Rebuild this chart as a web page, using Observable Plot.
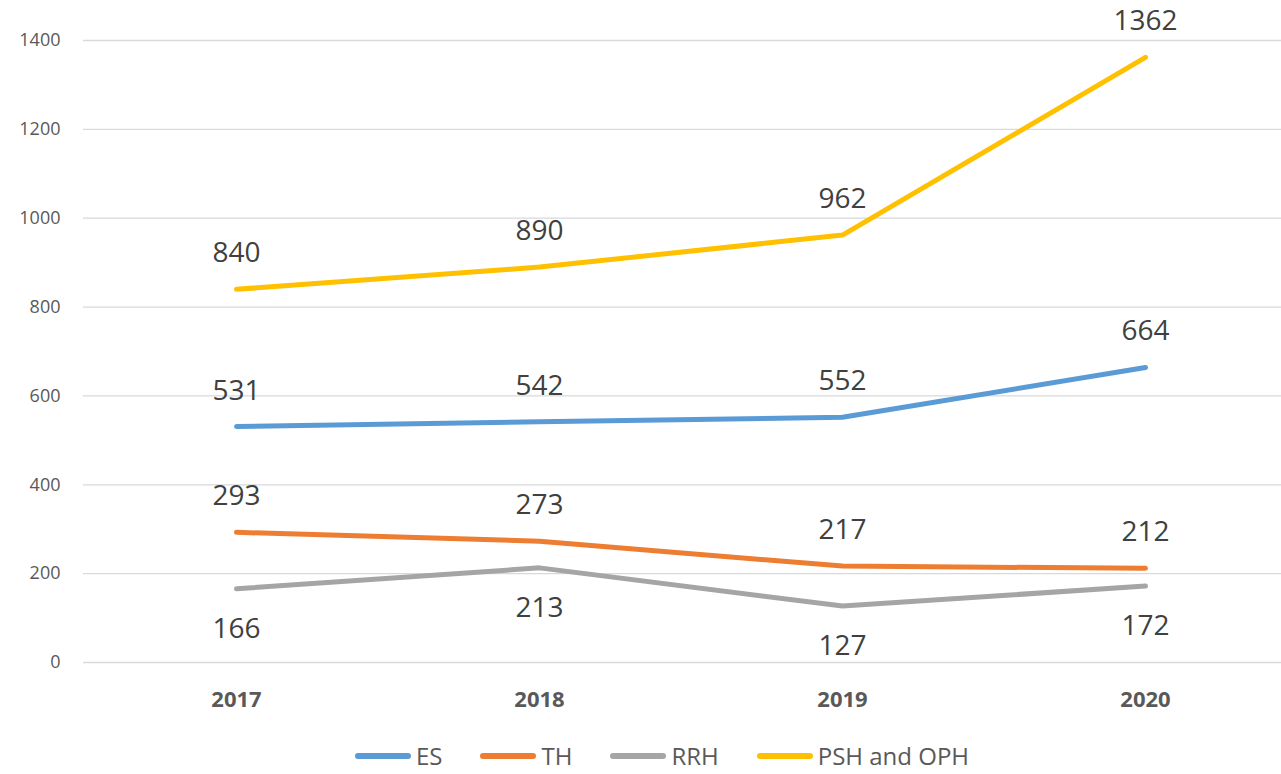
<!DOCTYPE html>
<html>
<head>
<meta charset="utf-8">
<script src="https://cdn.jsdelivr.net/npm/d3@7"></script>
<script src="https://cdn.jsdelivr.net/npm/@observablehq/plot@0.6"></script>
<style>
  body { margin: 0; background: #fff; font-family: "Open Sans", sans-serif; overflow: hidden; }
  #legend { display: flex; justify-content: center; align-items: center; gap: 38px; padding-left: 43px; height: 52px; font-size: 24px; line-height: 24px; color: #595959; }
  .item { display: flex; align-items: center; gap: 5px; }
  .sw { width: 56px; height: 6px; border-radius: 3px; }
</style>
</head>
<body>
<div id="chart"></div>
<div id="legend"></div>
<script>
const years = ["2017", "2018", "2019", "2020"];
const seriesNames = ["ES", "TH", "RRH", "PSH and OPH"];
const ES = [531, 542, 552, 664];
const TH = [293, 273, 217, 212];
const RRH = [166, 213, 127, 172];
const PSH = [840, 890, 962, 1362];
const yTicks = [0, 200, 400, 600, 800, 1000, 1200, 1400];
const colors = ["#5B9BD5", "#ED7D31", "#A5A5A5", "#FFC000"];

const valuesBySeries = [ES, TH, RRH, PSH];
const rows = [];
seriesNames.forEach((s, i) => years.forEach((y, j) => rows.push({series: s, year: y, value: valuesBySeries[i][j]})));
const below = rows.filter(d => d.series === "RRH");
const above = rows.filter(d => d.series !== "RRH");

const chart = Plot.plot({
  width: 1281,
  height: 730,
  marginLeft: 83,
  marginRight: 0,
  marginTop: 40,
  marginBottom: 68,
  style: {fontFamily: "Open Sans, sans-serif", background: "#fff"},
  x: {type: "point", domain: years, range: [235, 1146], padding: 0, label: null, axis: null},
  y: {domain: [0, 1400], label: null, axis: null},
  color: {domain: seriesNames, range: colors},
  marks: [
    Plot.ruleY(yTicks, {stroke: "#d9d9d9", strokeWidth: 1.3}),
    Plot.text(yTicks, {y: d => d, text: d => String(d), frameAnchor: "left", dx: -23, textAnchor: "end", fontSize: 18, fill: "#595959"}),
    Plot.text(years, {x: d => d, text: d => d, frameAnchor: "bottom", lineAnchor: "middle", dy: 37, fontSize: 22, fontWeight: "bold", fill: "#595959"}),
    Plot.line(rows, {x: "year", y: "value", z: "series", stroke: "series", strokeWidth: 5, strokeLinecap: "round", strokeLinejoin: "round"}),
    Plot.text(above, {x: "year", y: "value", text: d => String(d.value), dy: -36, fontSize: 28, fill: "#404040"}),
    Plot.text(below, {x: "year", y: "value", text: d => String(d.value), dy: 40, fontSize: 28, fill: "#404040"})
  ]
});
document.getElementById("chart").appendChild(chart);

const legend = document.getElementById("legend");
seriesNames.forEach((s, i) => {
  const it = document.createElement("div");
  it.className = "item";
  const sw = document.createElement("span");
  sw.className = "sw";
  sw.style.background = colors[i];
  const t = document.createElement("span");
  t.textContent = s;
  it.appendChild(sw); it.appendChild(t);
  legend.appendChild(it);
});
</script>
</body>
</html>
